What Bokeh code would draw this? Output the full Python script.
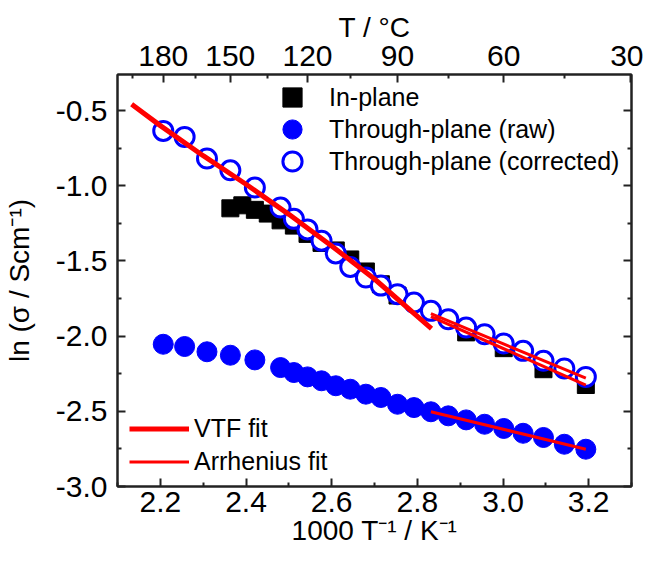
from bokeh.plotting import figure
from bokeh.models import (Range1d, LinearAxis, FixedTicker, PrintfTickFormatter,
                          CustomJSTickFormatter, Legend, LegendItem)
from bokeh.embed import file_html
from bokeh.resources import INLINE

# ---------------- data ----------------
# In-plane
inv_T_inplane = [2.3635, 2.3914, 2.4207, 2.4508, 2.4807, 2.5117, 2.5436, 2.5763,
                 2.6096, 2.6434, 2.6799, 2.7149, 2.7537, 2.9140, 3.0017, 3.0945, 3.1934]
ln_sigma_inplane = [-1.15, -1.13, -1.16, -1.185, -1.23, -1.265, -1.32, -1.38,
                    -1.43, -1.49, -1.57, -1.655, -1.73, -1.975, -2.08, -2.22, -2.325]

# Through-plane (raw and corrected share temperatures)
inv_T_through = [2.2068, 2.2567, 2.3089, 2.3635, 2.4207, 2.4807, 2.5117, 2.5436,
                 2.5763, 2.6096, 2.6434, 2.6799, 2.7149, 2.7537, 2.7921, 2.8317,
                 2.8723, 2.9140, 2.9570, 3.0017, 3.0470, 3.0945, 3.1432, 3.1934]
ln_sigma_raw = [-2.054, -2.069, -2.104, -2.127, -2.158, -2.209, -2.242, -2.271,
                -2.297, -2.330, -2.353, -2.386, -2.408, -2.453, -2.475, -2.503,
                -2.530, -2.557, -2.586, -2.614, -2.646, -2.674, -2.719, -2.752]
ln_sigma_corr = [-0.635, -0.675, -0.819, -0.897, -1.012, -1.145, -1.220, -1.290,
                 -1.365, -1.450, -1.540, -1.610, -1.664, -1.721, -1.777, -1.832,
                 -1.888, -1.943, -1.987, -2.049, -2.098, -2.164, -2.215, -2.271]

# Fits
vtf_x = [2.133, 2.20, 2.30, 2.40, 2.50, 2.60, 2.70, 2.833]
vtf_y = [-0.458, -0.600, -0.800, -0.990, -1.190, -1.400, -1.620, -1.950]
arr_corr_x = [2.8317, 3.1934]
arr_corr_y = [-1.850, -2.280]
arr_inplane_x = [2.8317, 3.1934]
arr_inplane_y = [-1.870, -2.325]
arr_raw_x = [2.8317, 3.1934]
arr_raw_y = [-2.503, -2.752]

# Ticks
x_ticks = [2.2, 2.4, 2.6, 2.8, 3.0, 3.2]
x_minor = [2.1, 2.3, 2.5, 2.7, 2.9, 3.1, 3.3]
y_ticks = [-3.0, -2.5, -2.0, -1.5, -1.0, -0.5]
y_minor = [-2.75, -2.25, -1.75, -1.25, -0.75, -0.25]
top_ticks_C = [180, 150, 120, 90, 60, 30]
top_minor_C = [195, 165, 135, 105, 75, 45]

FONT = "Liberation Sans"
X0, X1 = 2.1, 3.3
Y0, Y1 = -3.0, -0.26

p = figure(width=643, height=556, x_range=Range1d(X0, X1), y_range=Range1d(Y0, Y1),
           output_backend="svg", toolbar_location=None,
           min_border_left=117, min_border_right=12, min_border_top=74, min_border_bottom=70,
           background_fill_color="white", border_fill_color="white")
p.xgrid.grid_line_color = None
p.ygrid.grid_line_color = None
p.outline_line_color = "#222222"
p.outline_line_width = 2


def style_axis(ax, standoff, label="", label_standoff=0):
    ax.axis_line_width = 2
    ax.axis_line_color = "#222222"
    ax.major_tick_in = 8
    ax.major_tick_out = 0
    ax.minor_tick_in = 4
    ax.minor_tick_out = 0
    ax.major_tick_line_width = 2
    ax.minor_tick_line_width = 2
    ax.major_tick_line_color = "#222222"
    ax.minor_tick_line_color = "#222222"
    ax.major_label_text_font = FONT
    ax.major_label_text_font_size = "30px"
    ax.major_label_text_color = "black"
    ax.major_label_standoff = standoff
    if label:
        ax.axis_label = label
        ax.axis_label_text_font = FONT
        ax.axis_label_text_font_size = "28px"
        ax.axis_label_text_font_style = "normal"
        ax.axis_label_text_color = "black"
        ax.axis_label_standoff = label_standoff


xa = p.xaxis[0]
xa.ticker = FixedTicker(ticks=x_ticks, minor_ticks=x_minor)
xa.formatter = PrintfTickFormatter(format="%.1f")
style_axis(xa, 5, "1000 T\u207b\u00b9 / K\u207b\u00b9", 0)

ya = p.yaxis[0]
ya.ticker = FixedTicker(ticks=y_ticks, minor_ticks=y_minor)
ya.formatter = PrintfTickFormatter(format="%.1f")
style_axis(ya, 10, "ln (\u03c3 / Scm\u207b\u00b9)", 18)

top_ax = LinearAxis(
    ticker=FixedTicker(ticks=[1000.0 / (c + 273.15) for c in top_ticks_C],
                       minor_ticks=[1000.0 / (c + 273.15) for c in top_minor_C]),
    formatter=CustomJSTickFormatter(code="return Math.round(1000/tick - 273.15).toString();"))
style_axis(top_ax, 9, "T / \u00b0C", 0)
p.add_layout(top_ax, "above")

right_ax = LinearAxis(ticker=FixedTicker(ticks=y_ticks, minor_ticks=y_minor),
                      formatter=CustomJSTickFormatter(code="return '';"))
style_axis(right_ax, 0)
p.add_layout(right_ax, "right")

# ---------------- data renderers ----------------
r_in = p.scatter(inv_T_inplane, ln_sigma_inplane, marker="square", size=17,
                 fill_color="black", line_color="black")
r_raw = p.scatter(inv_T_through, ln_sigma_raw, marker="circle", size=20,
                  fill_color="#0000ff", line_color="#0000ff")
r_corr = p.scatter(inv_T_through, ln_sigma_corr, marker="circle", size=19,
                   fill_color="white", line_color="#0000ff", line_width=3)
r_vtf = p.line(vtf_x, vtf_y, line_color="#ff0000", line_width=5)
r_arr = p.line(arr_corr_x, arr_corr_y, line_color="#ff0000", line_width=3)
p.line(arr_inplane_x, arr_inplane_y, line_color="#ff0000", line_width=3)
p.line(arr_raw_x, arr_raw_y, line_color="#ff0000", line_width=3)


# ---------------- legends ----------------
def one_legend(label, rend, loc, gw, gh, standoff):
    lg = Legend(items=[LegendItem(label=label, renderers=[rend])], location=loc,
                glyph_width=gw, glyph_height=gh, label_standoff=standoff,
                padding=0, margin=0, spacing=0, border_line_color=None,
                background_fill_alpha=0, label_text_font=FONT,
                label_text_font_size="25px", label_text_color="black")
    p.add_layout(lg)


one_legend("In-plane", r_in, (151, 365), 48, 48, 13)
one_legend("Through-plane (raw)", r_raw, (151, 333), 48, 48, 13)
one_legend("Through-plane (corrected)", r_corr, (151, 301), 48, 48, 13)
one_legend("VTF fit", r_vtf, (12, 41), 60, 33, 5)
one_legend("Arrhenius fit", r_arr, (12, 8), 60, 33, 5)

open("out.html", "w").write(file_html(p, INLINE))
